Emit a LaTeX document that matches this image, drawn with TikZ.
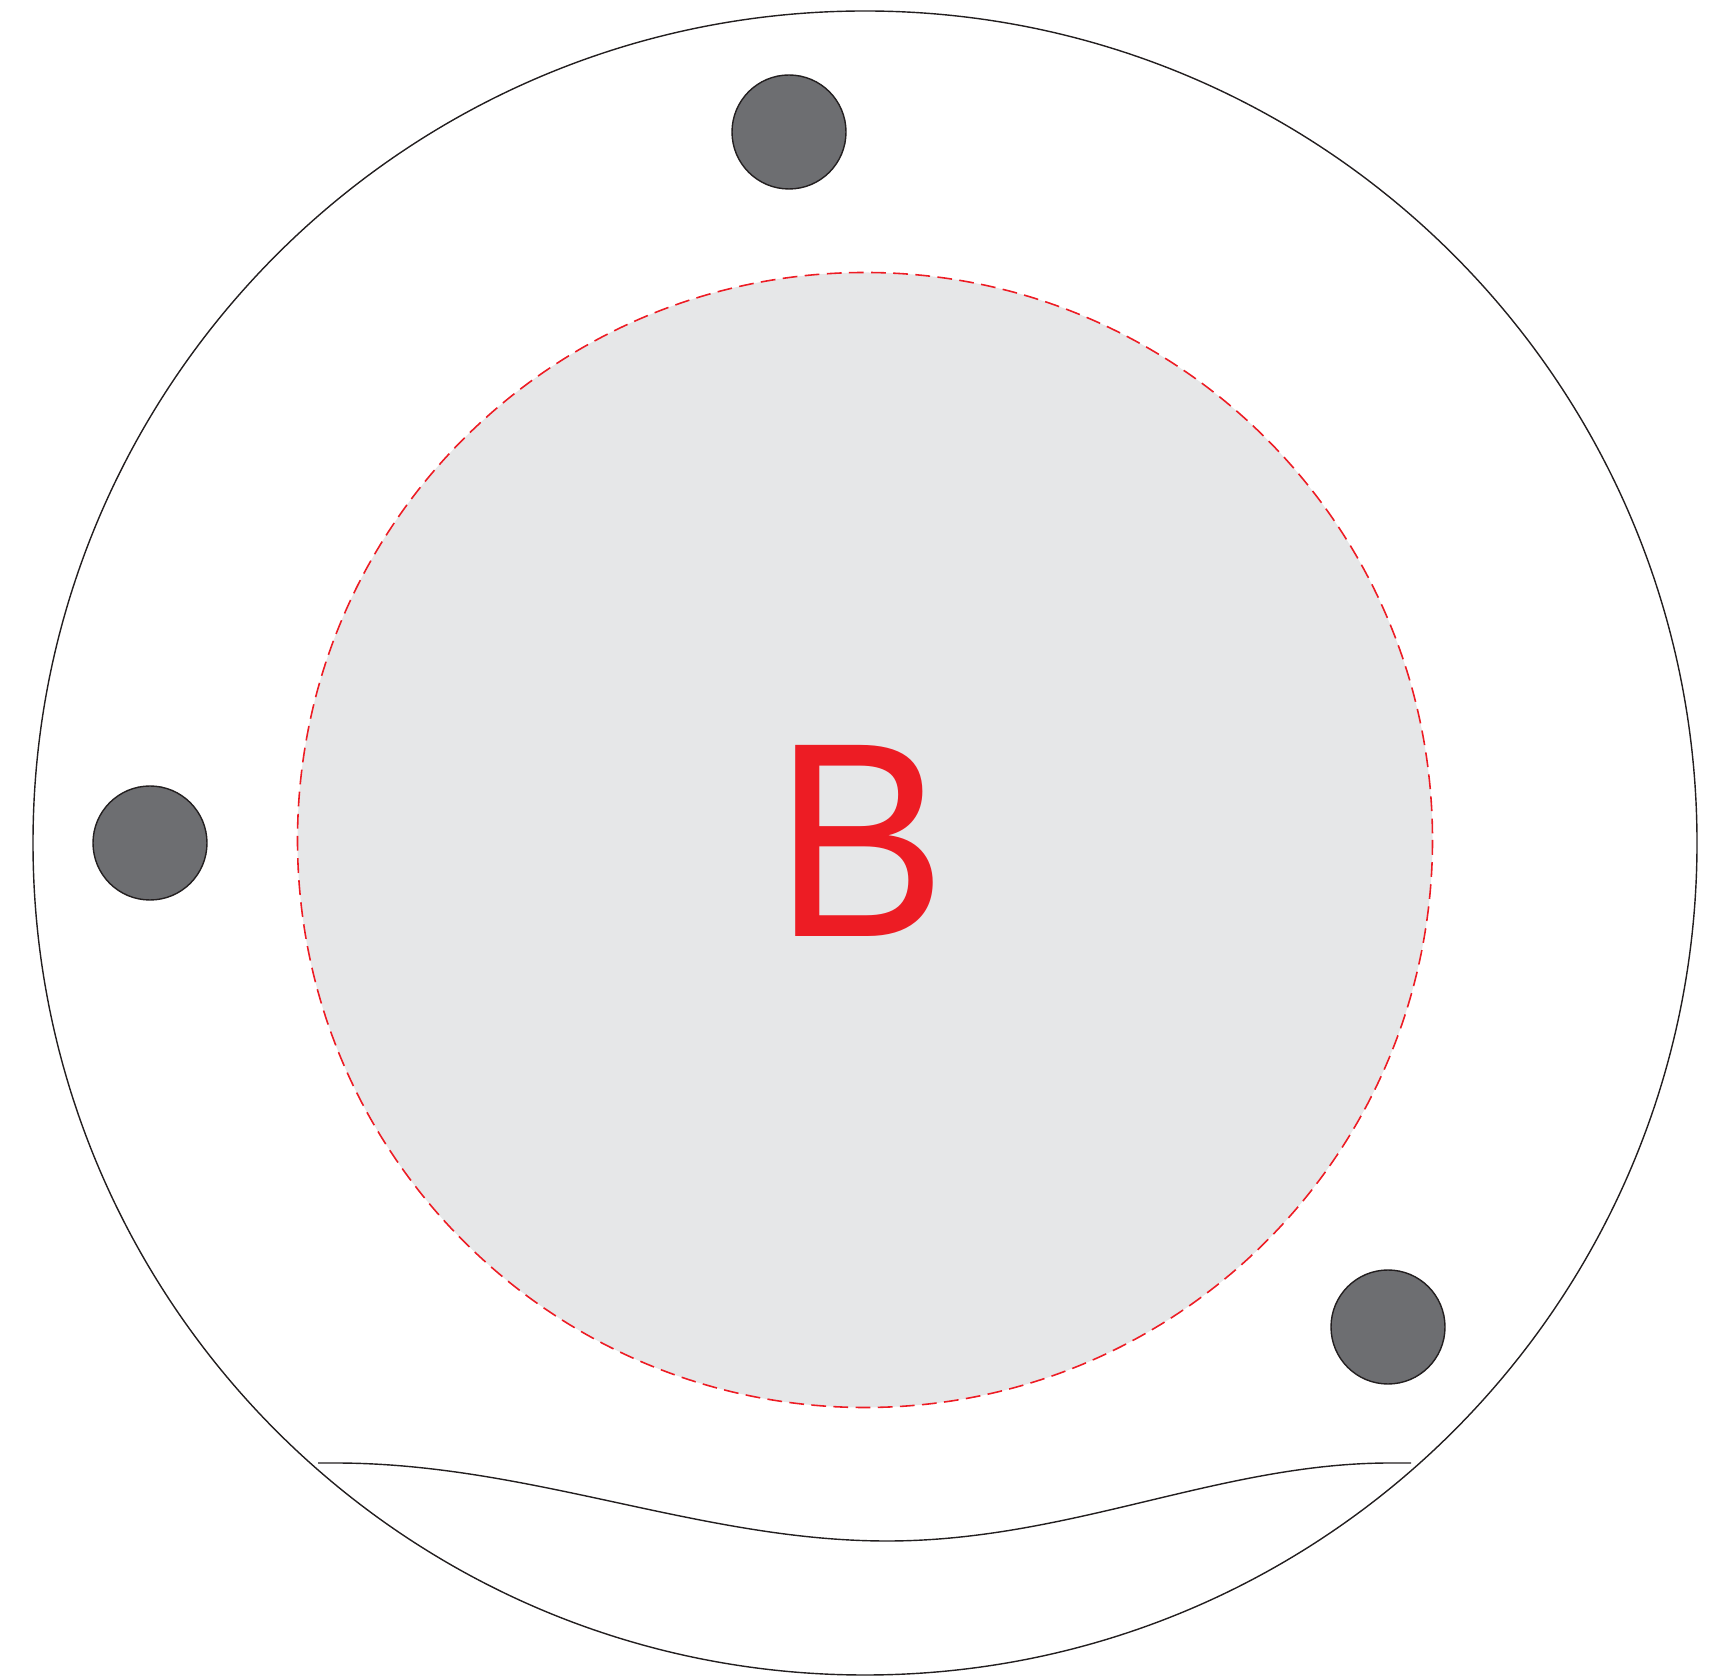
\documentclass[tikz,border=0pt]{standalone}
\usepackage{fontspec}
\setmainfont{Liberation Sans}
\usepackage{tikz}
\usepackage{xcolor}
\definecolor{rimgray}{HTML}{231F20}
\definecolor{dotgray}{HTML}{6D6E71}
\definecolor{zonegray}{HTML}{E6E7E8}
\definecolor{zonered}{HTML}{ED1C24}
\tikzset{
  rim/.style={draw=rimgray,line width=0.4pt},
  pin/.style={draw=rimgray,fill=dotgray,line width=0.4pt},
  zone/.style={draw=zonered,fill=zonegray,line width=0.45pt,dash pattern=on 4.2pt off 2.1pt}
}

\begin{document}
\begin{tikzpicture}[x=0.01cm,y=-0.01cm]
    \useasboundingbox (0,0) rectangle (1721,1680);
    \draw [rim] (865,843) circle (832);
    \draw [zone] (865,840) circle (567.5);
    \node [xscale=0.93] (lbl) at (861,841) {\fontsize{79}{82}\selectfont\color{zonered}B};
    \draw [pin] (789,132) circle (57);
    \draw [pin] (150,843) circle (57);
    \draw [pin] (1388,1327) circle (57);
    \draw [rim] (318,1463)--(335,1463) .. controls (530,1463) and (700,1541) .. (887,1541)
        .. controls (1070,1541) and (1220,1463) .. (1390,1463)--(1411,1463);
\end{tikzpicture}
\end{document}
